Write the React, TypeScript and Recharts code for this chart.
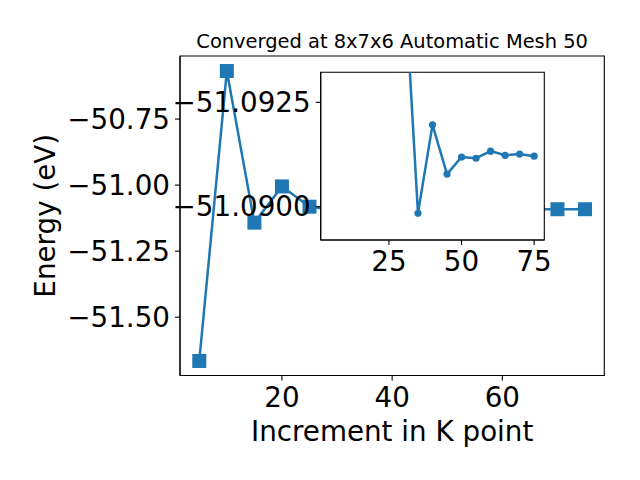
import {
  Line,
  LineChart,
  XAxis,
  YAxis,
  CartesianGrid,
  ReferenceArea,
} from "recharts";

const BLUE = "#1f77b4";
const FONT = "DejaVu Sans";

// k-point increments and total energies (eV)
const KPOINTS = [5, 10, 15, 20, 25, 30, 35, 40, 45, 50, 55, 60, 65, 70, 75];
const ENERGY = [
  -51.6655, -50.5683, -51.142, -51.005, -51.0816, -51.0959, -51.08984,
  -51.09196, -51.09078, -51.09119, -51.09116, -51.09133, -51.09123,
  -51.09126, -51.09121,
];
// the zoomed inset only plots from 30 k-points on
const INSET_FROM = 30;

const MAIN_X_TICKS = [20, 40, 60];
const MAIN_Y_TICKS = [-51.5, -51.25, -51.0, -50.75];
const INSET_X_TICKS = [25, 50, 75];
const INSET_Y_TICKS = [-51.0925, -51.09];

const X_DOMAIN = [1.5, 78.5];
const MAIN_Y_DOMAIN = [-51.7205, -50.5114];
const INSET_Y_DOMAIN = [-51.09322, -51.0892];

const data = KPOINTS.map((k, i) => ({ k, energy: ENERGY[i] }));
const insetData = data.filter((d) => d.k >= INSET_FROM);

const fmt = (digits: number) => (v: number) =>
  (v < 0 ? "\u2212" : "") + Math.abs(v).toFixed(digits);

const tickStyle = { fontSize: 27.78, fill: "#000", fontFamily: FONT };
const axisLine = { stroke: "#000", strokeWidth: 1.1 };

function SquareDot(props: any) {
  const { cx, cy, index } = props;
  if (cx == null || cy == null) return null;
  return (
    <rect key={index} x={cx - 7} y={cy - 7} width={14} height={14} fill={BLUE} />
  );
}

function RoundDot(props: any) {
  const { cx, cy, index } = props;
  if (cx == null || cy == null) return null;
  return <circle key={index} cx={cx} cy={cy} r={3.6} fill={BLUE} />;
}

function Frame({ yDomain }: { yDomain: number[] }) {
  return (
    <ReferenceArea
      x1={X_DOMAIN[0]}
      x2={X_DOMAIN[1]}
      y1={yDomain[0]}
      y2={yDomain[1]}
      fill="none"
      fillOpacity={0}
      stroke="#000"
      strokeWidth={1.1}
      ifOverflow="visible"
    />
  );
}

function MainChart() {
  return (
    <LineChart
      width={640}
      height={480}
      data={data}
      margin={{ top: 56, right: 35.7, bottom: 64.5, left: 80 }}
    >
      <XAxis
        dataKey="k"
        type="number"
        domain={X_DOMAIN}
        ticks={MAIN_X_TICKS}
        height={40}
        tickSize={5}
        tickMargin={6.5}
        tick={tickStyle}
        axisLine={axisLine}
        tickLine={axisLine}
        allowDataOverflow
      />
      <YAxis
        type="number"
        domain={MAIN_Y_DOMAIN}
        ticks={MAIN_Y_TICKS}
        tickFormatter={fmt(2)}
        width={100}
        tickSize={5}
        tickMargin={5}
        tick={tickStyle}
        axisLine={axisLine}
        tickLine={axisLine}
        allowDataOverflow
      />
      <Line
        dataKey="energy"
        stroke={BLUE}
        strokeWidth={2.5}
        dot={SquareDot}
        activeDot={false}
        isAnimationActive={false}
      />
      <Frame yDomain={MAIN_Y_DOMAIN} />
    </LineChart>
  );
}

function InsetChart() {
  return (
    <LineChart
      width={640}
      height={480}
      data={insetData}
      margin={{ top: 72.3, right: 95.7, bottom: 200, left: 220.7 }}
    >
      <CartesianGrid fill="#fff" horizontal={false} vertical={false} />
      <XAxis
        dataKey="k"
        type="number"
        domain={X_DOMAIN}
        ticks={INSET_X_TICKS}
        height={40}
        tickSize={5}
        tickMargin={6.5}
        tick={tickStyle}
        axisLine={axisLine}
        tickLine={axisLine}
        allowDataOverflow
      />
      <YAxis
        type="number"
        reversed
        domain={INSET_Y_DOMAIN}
        ticks={INSET_Y_TICKS}
        tickFormatter={fmt(4)}
        width={100}
        tickSize={5}
        tickMargin={5}
        tick={tickStyle}
        axisLine={axisLine}
        tickLine={axisLine}
        allowDataOverflow
      />
      <Line
        dataKey="energy"
        stroke={BLUE}
        strokeWidth={2.5}
        dot={RoundDot}
        activeDot={false}
        isAnimationActive={false}
      />
      <Frame yDomain={INSET_Y_DOMAIN} />
    </LineChart>
  );
}

export default function App() {
  const layer = { position: "absolute" as const, left: 0, top: 0 };
  return (
    <div style={{ ...layer, width: 640, height: 480, background: "#fff" }}>
      <div style={layer}>
        <MainChart />
      </div>
      <div style={layer}>
        <InsetChart />
      </div>
      <svg style={{ ...layer, pointerEvents: "none" }} width={640} height={480}>
        <text
          x={392.15}
          y={48}
          textAnchor="middle"
          fontSize={19.44}
          fontFamily={FONT}
          fill="#000"
        >
          Converged at 8x7x6 Automatic Mesh 50
        </text>
        <text
          x={392.15}
          y={441}
          textAnchor="middle"
          fontSize={27.78}
          fontFamily={FONT}
          fill="#000"
        >
          Increment in K point
        </text>
        <text
          transform="translate(55 215.75) rotate(-90)"
          textAnchor="middle"
          fontSize={27.78}
          fontFamily={FONT}
          fill="#000"
        >
          Energy (eV)
        </text>
      </svg>
    </div>
  );
}
